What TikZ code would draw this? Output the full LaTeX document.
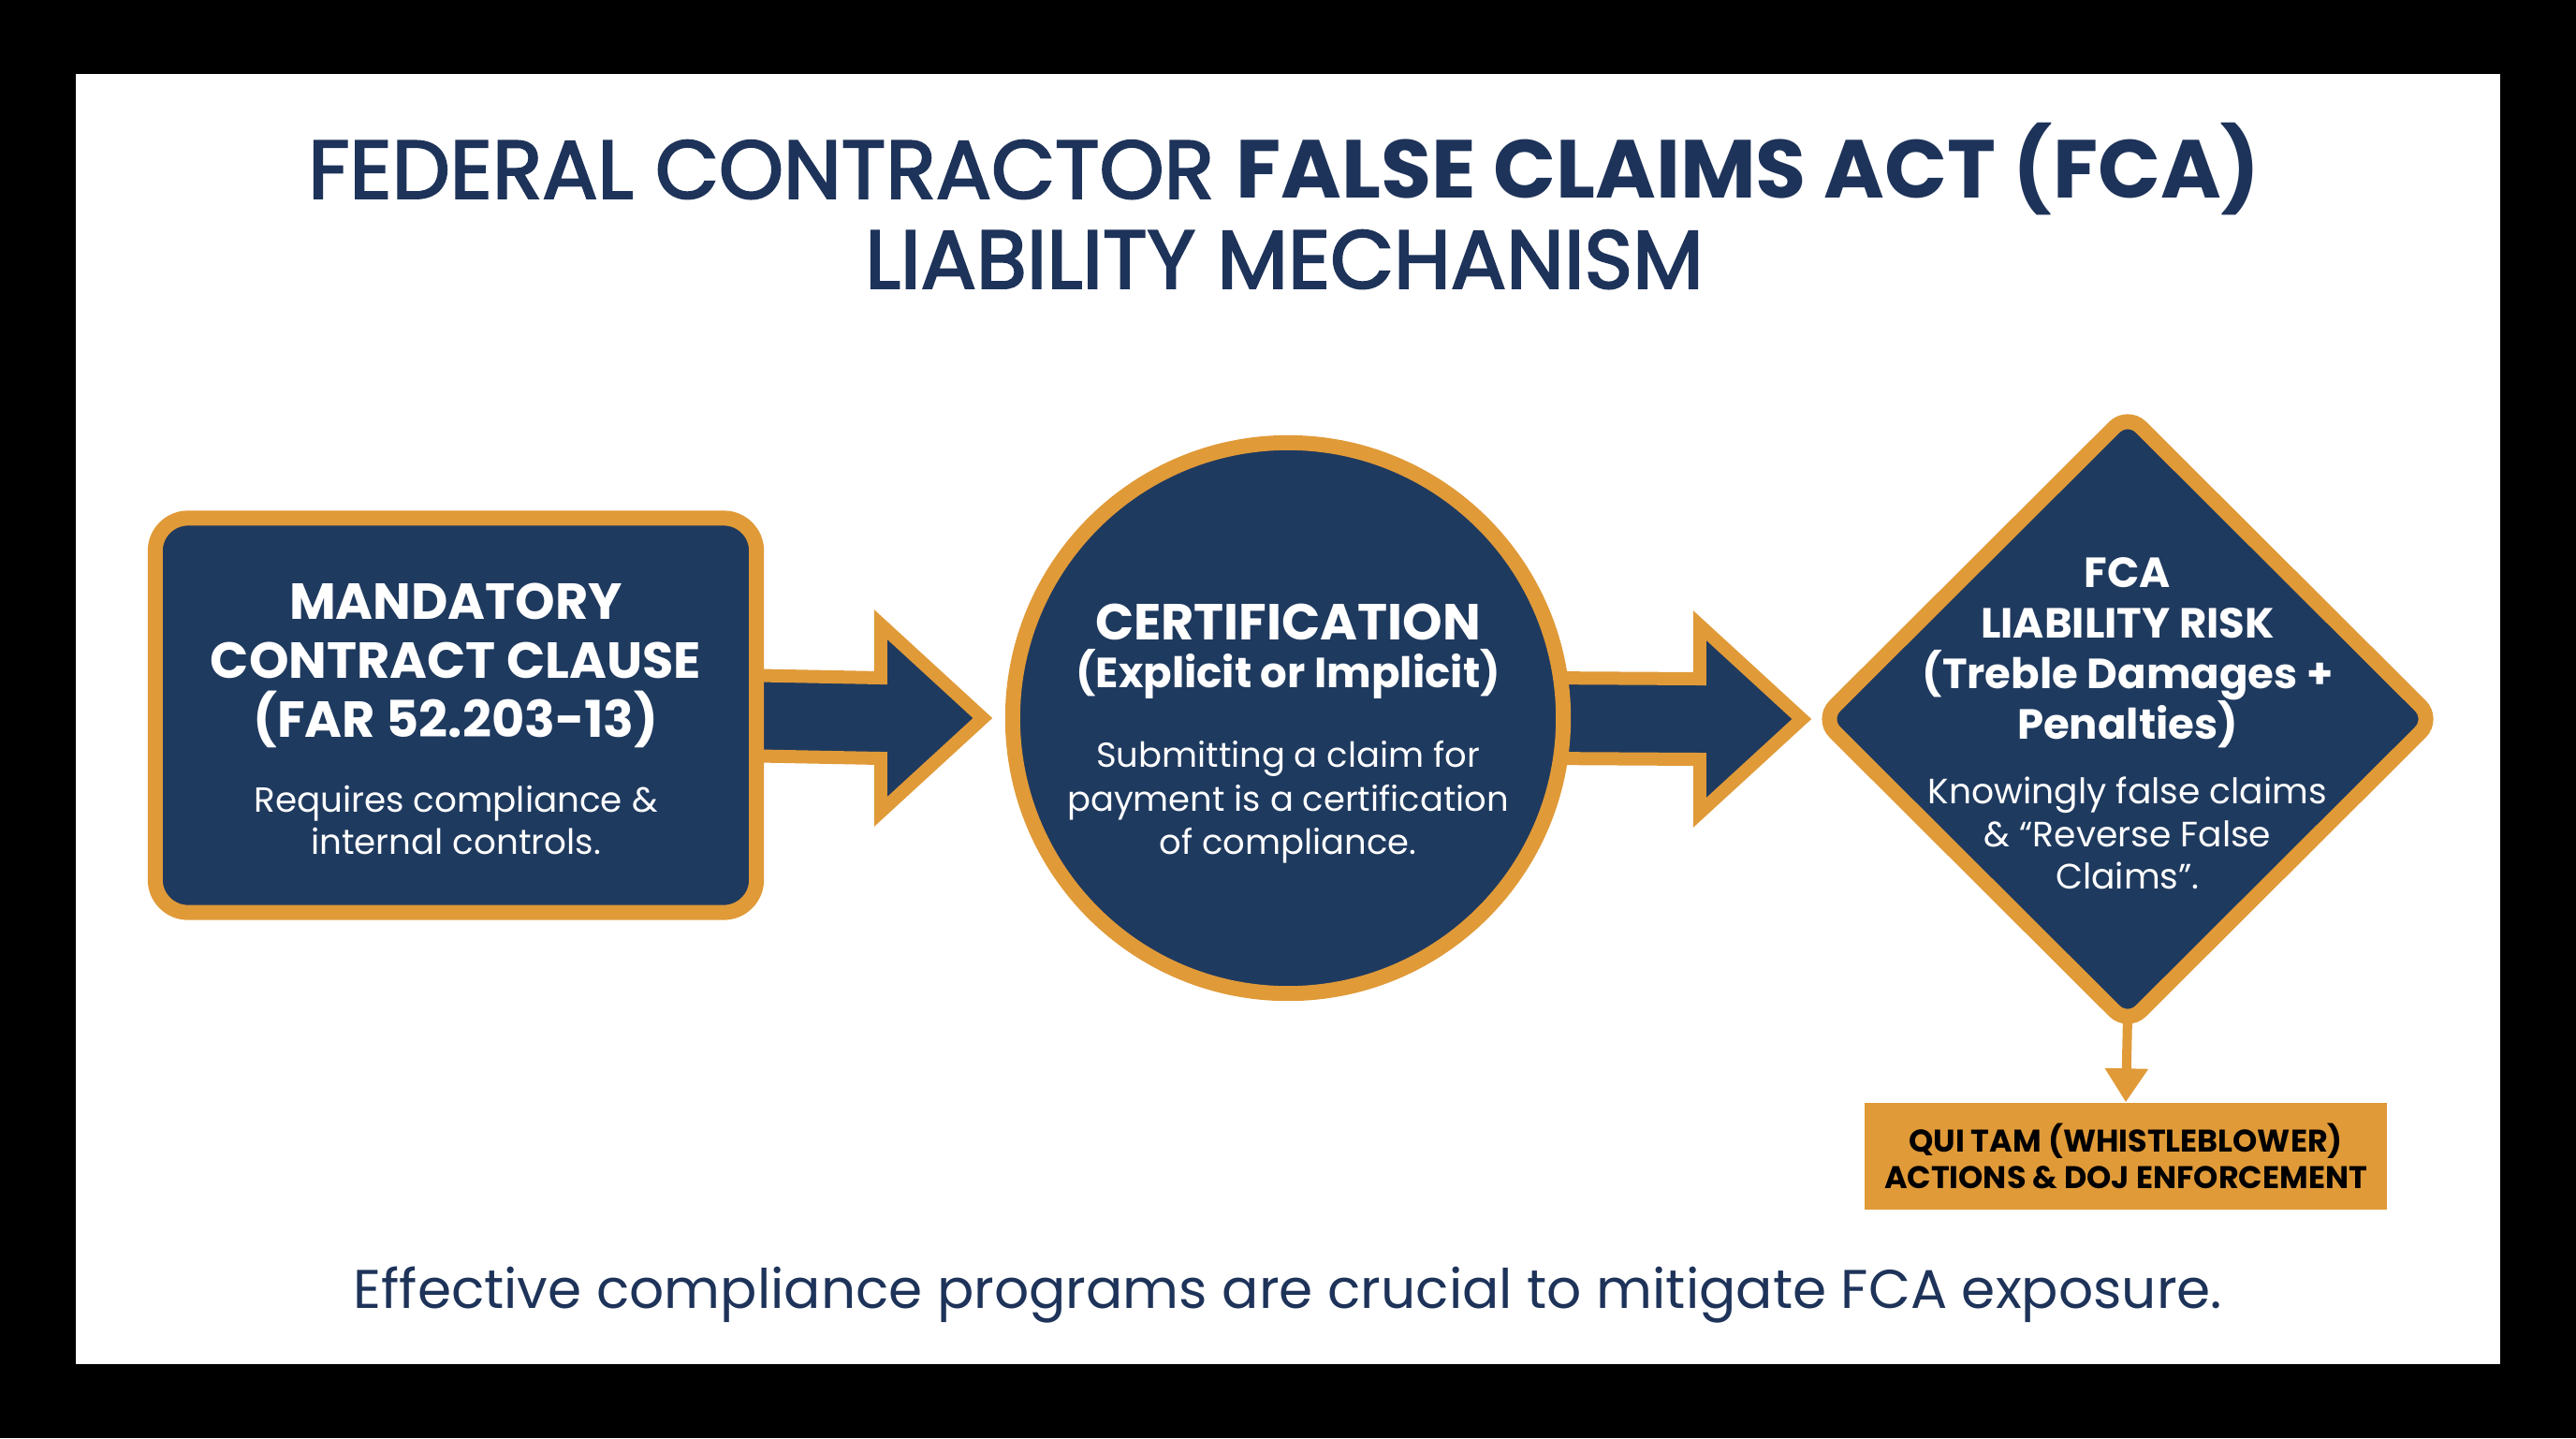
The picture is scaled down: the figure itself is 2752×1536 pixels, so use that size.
\documentclass[tikz,border=0pt]{standalone}
\usepackage{fontspec}
\setmainfont{Poppins}
\newfontfamily\popmed[FakeBold=2.5]{Poppins}
\usetikzlibrary{shapes.geometric,arrows.meta,calc,backgrounds}
\definecolor{navy}{HTML}{1F3A5F}
\definecolor{gold}{HTML}{E09A38}
\definecolor{inkblue}{HTML}{1E3359}
\tikzset{
  shapebox/.style={draw=gold, fill=navy, line width=1.6mm, inner sep=0pt},
  headtext/.style={text=white, align=center, inner sep=0pt},
  bodytext/.style={text=white, align=center, inner sep=0pt},
  blockarrow/.style={draw=gold, fill=navy, line width=1.4mm, line join=miter},
}
\begin{document}
\begin{tikzpicture}[x=0.01cm, y=-0.01cm]
\useasboundingbox (0,0) rectangle (2752,1536);

% shapes
\node[shapebox, rectangle, rounded corners=3.5mm, minimum width=6.42cm, minimum height=4.21cm] (clause) at (487,764) {};
\node[shapebox, circle, minimum size=5.88cm] (cert) at (1376,767) {};
\node[shapebox, diamond, rounded corners=2mm, minimum width=6.60cm, minimum height=6.58cm] (risk) at (2273,768) {};
\node[fill=gold, minimum width=5.58cm, minimum height=1.14cm, inner sep=0pt, align=center,
      font=\fontsize{9.5}{11}\selectfont\bfseries, text=black] (quitam) at (2271,1235)
      {QUI TAM (WHISTLEBLOWER)\\ACTIONS \& DOJ ENFORCEMENT};

% texts
\node[text=inkblue, align=center, inner sep=0pt, font=\fontsize{25}{27.3}\selectfont] (title) at (1372,220)
  {{\popmed FEDERAL CONTRACTOR} \textbf{FALSE CLAIMS ACT (FCA)}\\{\popmed LIABILITY MECHANISM}};

\node[headtext, font=\fontsize{15.4}{18}\selectfont\bfseries] (clauseH) at (487,711)
  {MANDATORY\\CONTRACT CLAUSE\\(FAR 52.203-13)};
\node[bodytext, font=\fontsize{10.6}{13}\selectfont] (clauseB) at (487,876) {Requires compliance \&\\internal controls.};

\node[headtext, font=\fontsize{15.4}{18}\selectfont\bfseries] (certH1) at (1376,664) {CERTIFICATION};
\node[headtext, font=\fontsize{12.8}{16}\selectfont\bfseries] (certH2) at (1376,720) {(Explicit or Implicit)};
\node[bodytext, font=\fontsize{10.5}{13.2}\selectfont] (certB) at (1376,857) {Submitting a claim for\\payment is a certification\\of compliance.};

\node[headtext, font=\fontsize{12.8}{15.4}\selectfont\bfseries] (riskH) at (2273,697)
  {FCA\\LIABILITY RISK\\(Treble Damages +\\Penalties)};
\node[bodytext, font=\fontsize{10.7}{13}\selectfont] (riskB) at (2273,890) {Knowingly false claims\\\& “Reverse False\\Claims”.};

\node[text=inkblue, inner sep=0pt, font=\fontsize{16.55}{19}\selectfont] (footer) at (1376,1383)
  {Effective compliance programs are crucial to mitigate FCA exposure.};

% background and connectors
\begin{scope}[on background layer]
\fill[black] (0,0) rectangle (2752,1536);
\fill[white] (81,79) rectangle (2671,1457);
\draw[blockarrow] ($(clause.east)+(-30,-43)$) -- ($(cert.west)+(-133,-43)$) -- ($(cert.west)+(-133,-100)$)
  -- ($(cert.west)+(-24,0)$) -- ($(cert.west)+(-133,100)$) -- ($(cert.west)+(-133,43)$)
  -- ($(clause.east)+(-30,43)$) -- cycle;
\draw[blockarrow] ($(cert.east)+(-30,-43)$) -- ($(risk.west)+(-119,-43)$) -- ($(risk.west)+(-119,-100)$)
  -- ($(risk.west)+(-10,0)$) -- ($(risk.west)+(-119,100)$) -- ($(risk.west)+(-119,43)$)
  -- ($(cert.east)+(-30,43)$) -- cycle;
\draw[gold, line width=1mm, -{Triangle[width=4.4mm,length=3.6mm]}] ($(risk.south)+(0,-20)$) -- (quitam.north);
\end{scope}
\end{tikzpicture}
\end{document}
